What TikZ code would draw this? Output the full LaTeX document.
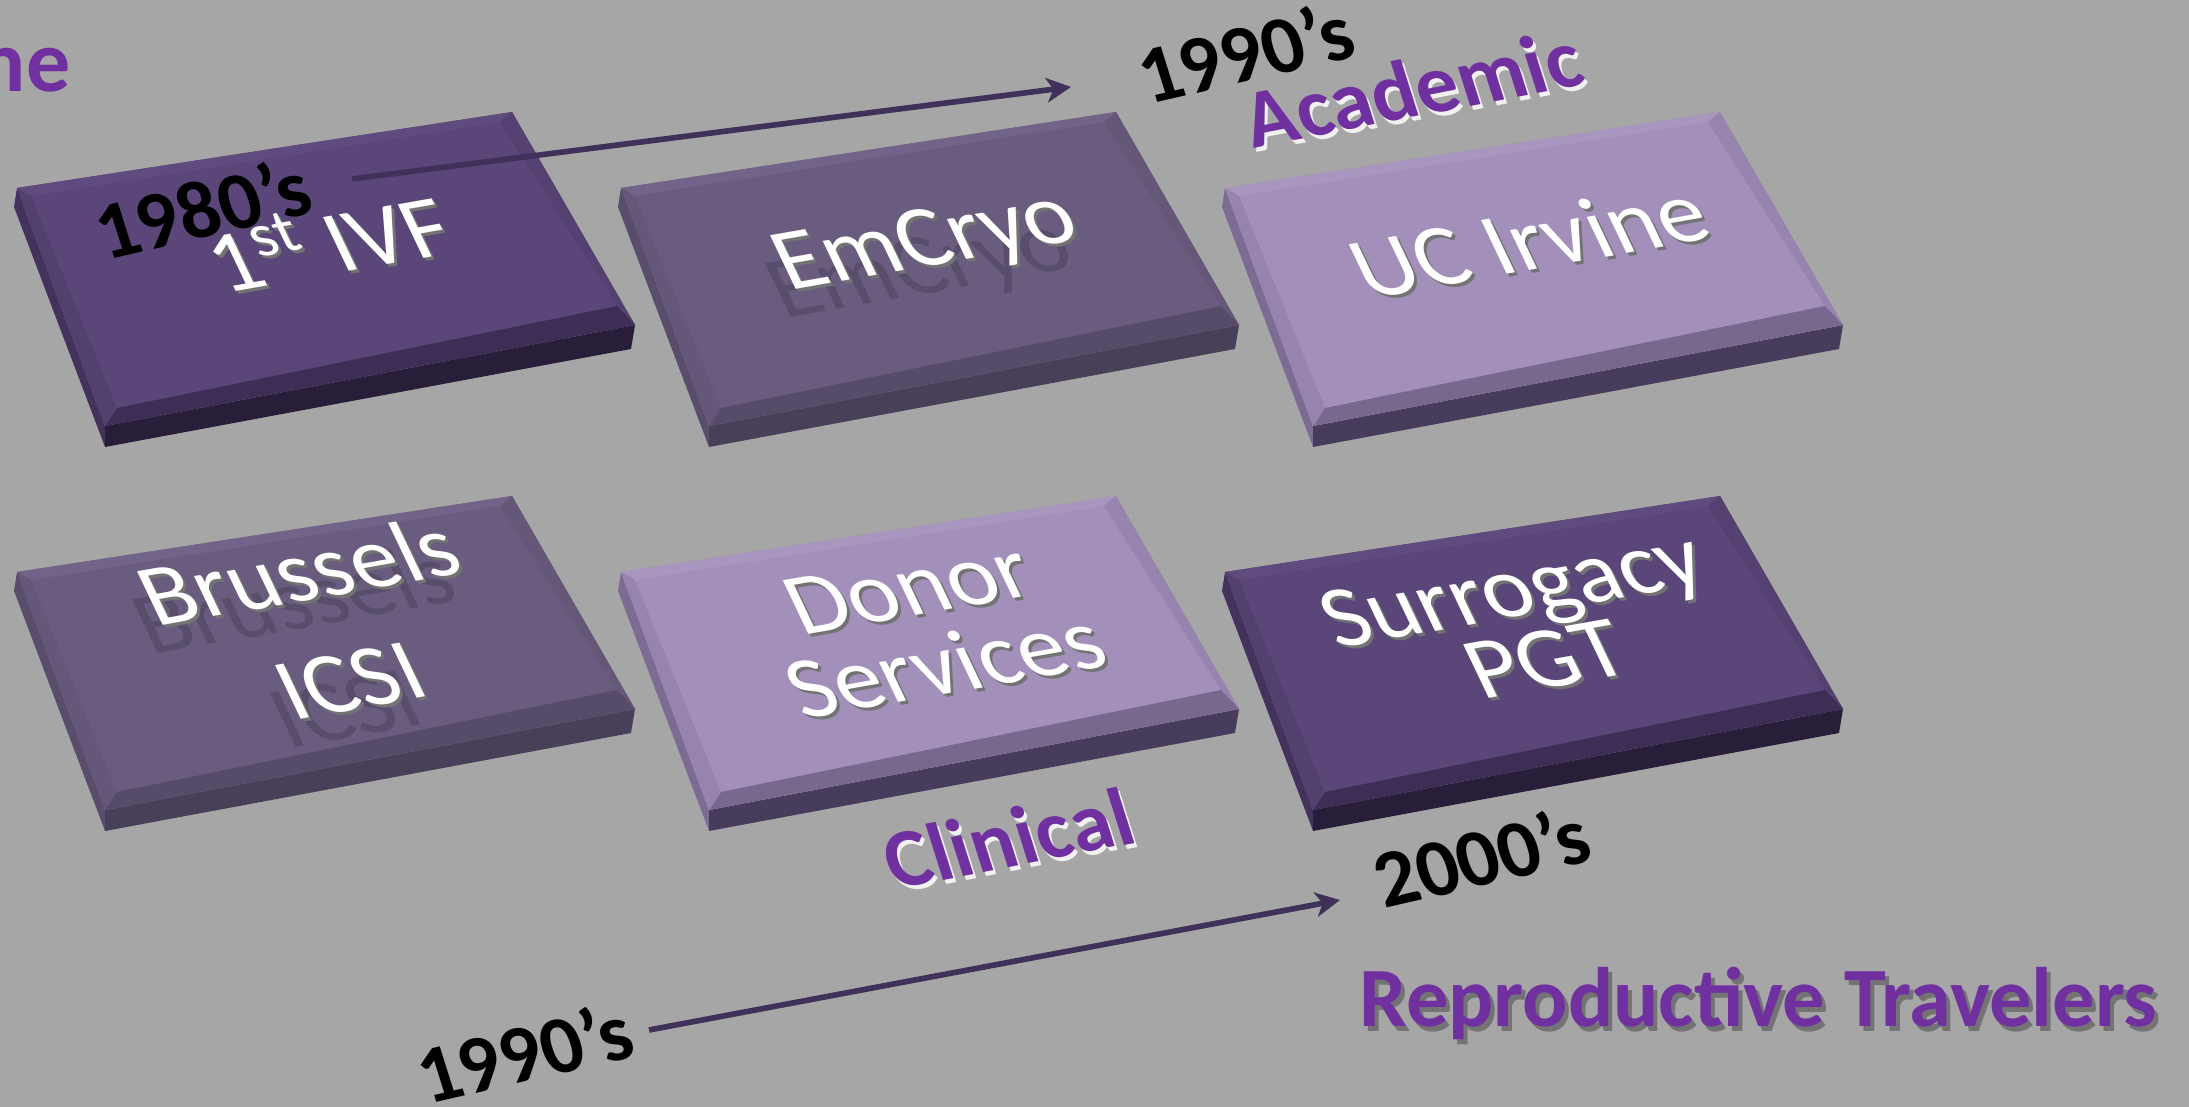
\documentclass[tikz,border=0pt]{standalone}
\usepackage{fontspec}
\setmainfont{Carlito}
\usetikzlibrary{arrows.meta}
\definecolor{bg}{RGB}{166,166,166}
\definecolor{lbl}{RGB}{112,48,160}
\definecolor{arr}{RGB}{64,49,90}
\definecolor{dktop}{RGB}{90,70,120}
\definecolor{dkback}{RGB}{95,75,125}
\definecolor{dkrim}{RGB}{84,65,113}
\definecolor{dklow}{RGB}{60,46,84}
\definecolor{dkedge}{RGB}{82,64,110}
\definecolor{dkface}{RGB}{40,30,58}
\definecolor{dkside}{RGB}{66,50,92}
\definecolor{mdtop}{RGB}{106,92,127}
\definecolor{mdback}{RGB}{114,100,136}
\definecolor{mdrim}{RGB}{100,87,120}
\definecolor{mdlow}{RGB}{86,75,104}
\definecolor{mdedge}{RGB}{100,87,121}
\definecolor{mdface}{RGB}{72,63,88}
\definecolor{mdside}{RGB}{88,77,106}
\definecolor{lttop}{RGB}{162,143,186}
\definecolor{ltback}{RGB}{168,150,191}
\definecolor{ltrim}{RGB}{150,132,174}
\definecolor{ltlow}{RGB}{120,104,142}
\definecolor{ltedge}{RGB}{150,132,174}
\definecolor{ltface}{RGB}{72,60,92}
\definecolor{ltside}{RGB}{124,108,148}
\tikzset{
  plane/.style={cm={0.985,0.174,-0.42,0.88,(0,0)}},
  tiletext/.style={plane, align=center, inner sep=0, text=white, font=\fontsize{27}{25}\selectfont},
  tileshade/.style={tiletext, text=black!55},
  ghost/.style={tiletext, text=black, opacity=.16},
  yr/.style={cm={0.974,0.225,-0.30,0.95,(0,0)}, inner sep=0, font=\bfseries\fontsize{23.5}{26}\selectfont},
  tag/.style={cm={0.982,0.19,-0.30,0.95,(0,0)}, inner sep=0, text=lbl, font=\bfseries\fontsize{24}{28}\selectfont},
  trav/.style={anchor=base west, inner sep=0, text=lbl, font=\bfseries\fontsize{24}{28}\selectfont},
  tl/.style={line width=1.6pt, draw=arr, -{Stealth[length=7pt,width=7pt,inset=2pt]}}
}
\begin{document}
\begin{tikzpicture}[x=0.01cm,y=-0.01cm]
\useasboundingbox (0,0) rectangle (2189,1107);
\clip (0,0) rectangle (2189,1107);
\fill[bg] (0,0) rectangle (2189,1107);
\foreach \tx/\ty/\col in {17/188/dk,621/188/md,1225/188/lt,17/572/md,621/572/lt,1225/572/dk}{
\begin{scope}[shift={(\tx,\ty)}]
\fill[fill=\col side] (0,0) -- (88,238) -- (88,259) -- (-3,19) -- cycle;
\fill[fill=\col face] (88,238) -- (618,137) -- (614,161) -- (88,259) -- cycle;
\fill[fill=\col top] (0,0) -- (495,-76) -- (618,137) -- (88,238) -- cycle;
\fill[fill=\col back] (0,0) -- (495,-76) -- (483,-66) -- (14,8) -- cycle;
\fill[fill=\col rim] (495,-76) -- (618,137) -- (600,118) -- (483,-66) -- cycle;
\fill[fill=\col low] (618,137) -- (88,238) -- (100,220) -- (600,118) -- cycle;
\fill[fill=\col edge] (88,238) -- (0,0) -- (14,8) -- (100,220) -- cycle;
\end{scope}}
\node[ghost] (cryog) at (922,272) {EmCryo};
\node[ghost] (icsig) at (319,653) {Brussels\\[10pt]ICSI};
\node[tileshade] (ivfs) at (330,243) {1\textsuperscript{st} IVF};
\node[tiletext] (ivf) at (327,240) {1\textsuperscript{st} IVF};
\node[tileshade] (cryos) at (930,247) {EmCryo};
\node[tiletext] (cryo) at (927,244) {EmCryo};
\node[tileshade] (ucis) at (1532,243) {UC Irvine};
\node[tiletext] (uci) at (1529,240) {UC Irvine};
\node[tileshade] (icsis) at (327,628) {Brussels\\[10pt]ICSI};
\node[tiletext] (icsi) at (324,625) {Brussels\\[10pt]ICSI};
\node[tileshade] (donors) at (930,630) {Donor\\Services};
\node[tiletext] (donor) at (927,627) {Donor\\Services};
\node[tileshade] (pgts) at (1532,627) {Surrogacy\\[-2pt]PGT};
\node[tiletext] (pgt) at (1529,624) {Surrogacy\\[-2pt]PGT};
\coordinate (a1) at (352,179);
\coordinate (a2) at (1071,87);
\coordinate (b1) at (649,1030);
\coordinate (b2) at (1340,900);
\draw[tl] (a1) -- (a2);
\draw[tl] (b1) -- (b2);
\node[yr] (y80) at (202,208) {1980’s};
\node[yr] (y90a) at (1245,52) {1990’s};
\node[yr] (y00) at (1481,856) {2000’s};
\node[yr] (y90b) at (524,1052) {1990’s};
\node[tag, text=white, opacity=.85] (acadg) at (1415,92) {Academic};
\node[tag] (acad) at (1412,88) {Academic};
\node[tag, text=white, opacity=.85] (cling) at (1011,842) {Clinical};
\node[tag] (clin) at (1008,838) {Clinical};
\node[trav, text=black, opacity=.3] (travs) at (1363,1031) {Reproductive Travelers};
\node[trav] (travl) at (1359,1026) {Reproductive Travelers};
\node[anchor=base east, inner sep=0, text=lbl, font=\bfseries\fontsize{25}{30}\selectfont] (ttl) at (71,92) {ne};
\end{tikzpicture}
\end{document}
